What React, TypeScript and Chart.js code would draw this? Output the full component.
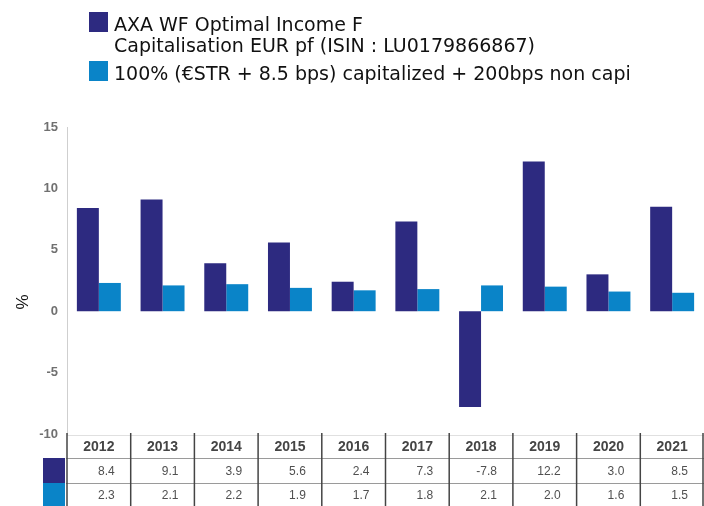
import React, { useEffect, useRef } from "react";
import { Chart, registerables } from "chart.js";

Chart.register(...registerables);

const years = ["2012", "2013", "2014", "2015", "2016", "2017", "2018", "2019", "2020", "2021"];
const fundValues = [8.4, 9.1, 3.9, 5.6, 2.4, 7.3, -7.8, 12.2, 3.0, 8.5];
const benchValues = [2.3, 2.1, 2.2, 1.9, 1.7, 1.8, 2.1, 2.0, 1.6, 1.5];
const fundLabel = ["AXA WF Optimal Income F", "Capitalisation EUR pf (ISIN : LU0179866867)"];
const benchLabel = ["100% (€STR + 8.5 bps) capitalized + 200bps non capi"];
const yTitle = "%";

const DARK = "#2d2a80";
const LIGHT = "#0a84c8";

const overlay = {
  id: "overlay",
  afterDraw(chart: any) {
    const ctx = chart.ctx;
    const x = chart.scales.x;
    const area = chart.chartArea;
    ctx.save();
    // legend
    const items = [
      { color: DARK, lines: fundLabel, top: 12, base: 31 },
      { color: LIGHT, lines: benchLabel, top: 61, base: 80 },
    ];
    ctx.font = "19px 'DejaVu Sans', sans-serif";
    ctx.textBaseline = "alphabetic";
    ctx.textAlign = "left";
    items.forEach((it) => {
      ctx.fillStyle = it.color;
      ctx.fillRect(89, it.top, 19, 20);
      ctx.fillStyle = "#111";
      it.lines.forEach((l, i) => {
        ctx.fillText(l, 114, it.base + i * 21);
      });
    });
    // y title
    ctx.save();
    ctx.translate(23, 302);
    ctx.rotate(-Math.PI / 2);
    ctx.textAlign = "center";
    ctx.textBaseline = "middle";
    ctx.font = "17px 'Liberation Sans', Arial, sans-serif";
    ctx.fillStyle = "#111";
    ctx.fillText(yTitle, 0, 0);
    ctx.restore();

    // table
    const n = years.length;
    const half = (x.getPixelForTick(1) - x.getPixelForTick(0)) / 2;
    const rowsY = [433, 458, 483, 506];
    // swatches
    ctx.fillStyle = DARK;
    ctx.fillRect(43, rowsY[1], 22, rowsY[2] - rowsY[1]);
    ctx.fillStyle = LIGHT;
    ctx.fillRect(43, rowsY[2], 22, rowsY[3] - rowsY[2]);
    // horizontal lines
    ctx.strokeStyle = "#9a9a9a";
    ctx.lineWidth = 1;
    [rowsY[1], rowsY[2]].forEach((yy) => {
      ctx.beginPath();
      ctx.moveTo(area.left - 1, yy + 0.5);
      ctx.lineTo(area.right, yy + 0.5);
      ctx.stroke();
    });
    ctx.strokeStyle = "#e0e0e0";
    ctx.beginPath();
    ctx.moveTo(area.left, rowsY[0] + 2.5);
    ctx.lineTo(area.right, rowsY[0] + 2.5);
    ctx.stroke();
    // vertical lines
    ctx.strokeStyle = "#444";
    ctx.lineWidth = 1.5;
    for (let i = 0; i <= n; i++) {
      const px = i < n ? x.getPixelForTick(i) - half : x.getPixelForTick(n - 1) + half - 1;
      ctx.beginPath();
      ctx.moveTo(px, rowsY[0]);
      ctx.lineTo(px, 506);
      ctx.stroke();
    }
    // texts
    ctx.textBaseline = "middle";
    for (let i = 0; i < n; i++) {
      const cx = x.getPixelForTick(i);
      ctx.textAlign = "center";
      ctx.font = "bold 14px 'Liberation Sans', Arial, sans-serif";
      ctx.fillStyle = "#454545";
      ctx.fillText(years[i], cx, (rowsY[0] + rowsY[1]) / 2 + 2);
      ctx.textAlign = "right";
      ctx.font = "12px 'Liberation Sans', Arial, sans-serif";
      ctx.fillStyle = "#505050";
      ctx.fillText(fundValues[i].toFixed(1), cx + half - 16, (rowsY[1] + rowsY[2]) / 2 + 1);
      ctx.fillText(benchValues[i].toFixed(1), cx + half - 16, (rowsY[2] + rowsY[3]) / 2 + 1);
    }
    ctx.restore();
  },
};

export default function App() {
  const ref = useRef<HTMLCanvasElement | null>(null);
  useEffect(() => {
    if (!ref.current) return;
    const chart = new Chart(ref.current, {
      type: "bar",
      data: {
        labels: years,
        datasets: [
          { label: fundLabel.join(" "), data: fundValues, backgroundColor: DARK, borderWidth: 0 },
          { label: benchLabel[0], data: benchValues, backgroundColor: LIGHT, borderWidth: 0 },
        ],
      },
      options: {
        responsive: false,
        animation: false,
        devicePixelRatio: 1,
        layout: { padding: { top: 127, bottom: 72, left: 0, right: 0 } },
        datasets: { bar: { categoryPercentage: 0.69, barPercentage: 1.0 } } as any,
        plugins: { legend: { display: false }, tooltip: { enabled: false } },
        scales: {
          x: { display: false, offset: true },
          y: {
            min: -10,
            max: 15,
            ticks: {
              stepSize: 5,
              color: "#707070",
              padding: 9,
              font: { family: "'Liberation Sans', Arial, sans-serif", size: 13, weight: "bold" },
            },
            grid: { display: false, drawTicks: false },
            border: { display: true, color: "#cfcfcf", width: 1 },
            afterFit: (scale: any) => {
              scale.width = 67;
            },
          },
        },
      },
      plugins: [overlay],
    });
    return () => chart.destroy();
  }, []);
  return (
    <div style={{ position: "absolute", left: 0, top: 0, width: 704, height: 506, background: "#fff" }}>
      <canvas ref={ref} width={704} height={506} style={{ width: 704, height: 506, display: "block" }} />
    </div>
  );
}
